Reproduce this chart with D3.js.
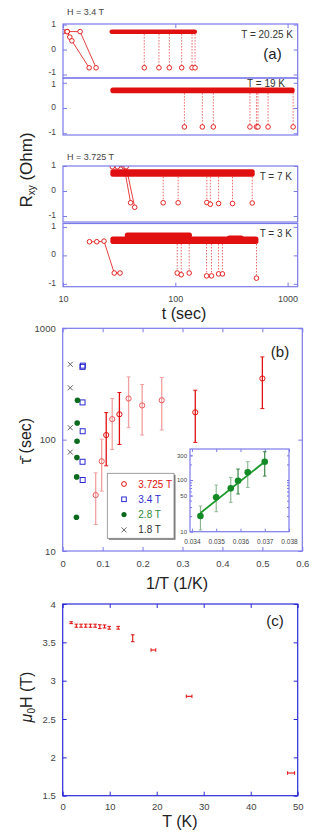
<!DOCTYPE html>
<html>
<head>
<meta charset="utf-8">
<script src="https://cdn.jsdelivr.net/npm/d3@7/dist/d3.min.js"></script>
<style>
body { margin: 0; background: #fff; }
svg text { font-family: "Liberation Sans", Arial, sans-serif; }
</style>
</head>
<body>
<div id="chartholder"></div>
<script>
// ---------- data ----------

// (a) telegraph traces: band = [t start, t end, R low, R high] of the crowded high state
var a1Band = [[27, 150, 0.62, 0.8]];
var a1Switch = [52.9, 71.5, 88.5, 114, 141, 150];
var a1Low = [-0.73, -0.73, -0.73, -0.73, -0.73, -0.73];
var a1Early = [
  [[10, 0.72], [10.9, 0.72], [11.5, 0.5], [12, 0.35], [17.1, -0.73]],
  [[10.9, 0.72], [14.2, 0.72], [19.7, -0.73]]
];

var a2Band = [[27.5, 1110, 0.59, 0.81]];
var a2Switch = [120.5, 174, 218, 462, 528, 545, 670, 1120];
var a2Low = [-0.75, -0.75, -0.75, -0.75, -0.75, -0.75, -0.75, -0.75];
var a2Early = [];

var a3Band = [[27.5, 489, 0.57, 0.87]];
var a3Switch = [78, 106, 191, 205, 243, 323, 484];
var a3Low = [-0.47, -0.47, -0.46, -0.53, -0.5, -0.5, -0.48];
var a3Early = [
  [[27.5, 0.97], [35, 0.97], [40, -0.47]],
  [[30.5, 0.97], [36.5, 0.97], [43.5, -0.65]]
];

var a4Band = [[27.5, 528, 0.4, 0.66], [37, 135, 0.6, 0.8], [300, 390, 0.55, 0.7]];
var a4Switch = [104, 113, 133, 190, 210, 243, 263, 528];
var a4Low = [-0.62, -0.68, -0.62, -0.72, -0.72, -0.65, -0.65, -0.8];
var a4Early = [
  [[17.2, 0.48], [20, 0.48], [23.2, 0.5], [28.6, -0.62], [32.2, -0.62]]
];

var aTempLabels = ["T = 20.25 K", "T = 19 K", "T = 7 K", "T = 3 K"];
var aFieldLabels = ["H = 3.4 T", "H = 3.725 T"];
var aXTicks = [10, 100, 1000];
var aYTicks = [-1, 0, 1];

// (b) mean switching time vs 1/T
var bRedX = [0.0826, 0.0976, 0.109, 0.124, 0.142, 0.165, 0.199, 0.248, 0.332, 0.5];
var bRedY = [31.8, 64, 110, 153, 169, 234, 203, 226, 176, 354];
var bRedLo = [17.3, 34.5, 58.2, 81.7, 90.6, 128, 110, 122, 94.5, 190];
var bRedHi = [50.3, 101, 175, 234, 265, 366, 313, 362, 278, 553];
var bRedTone = [0, 0, 1, 0, 1, 0, 0, 0, 1, 1];

var bBlueX = [0.0495, 0.0505, 0.0497, 0.05, 0.0497, 0.05];
var bBlueY = [450, 462, 216, 119, 63.3, 43.4];

var greenX = [0.0370, 0.0363, 0.0359, 0.0356, 0.0350, 0.03435];
var greenY = [226, 141, 96.8, 69, 46.3, 20.1];
var greenLo = [119, 72, 53.6, 37, 24.4, 10.8];
var greenHi = [352, 226, 163, 112, 80, 31.4];
var greenTone = [1, 0, 1, 0, 0, 0];
var greenFitX = [0.03435, 0.0370];
var greenFitY = [23, 226];

var bGrayX = [0.019, 0.019, 0.0188, 0.019];
var bGrayY = [475, 292, 128, 77.3];

var bLegend = ["3.725 T", "3.4 T", "2.8 T", "1.8 T"];
var bXTicks = [0, 0.1, 0.2, 0.3, 0.4, 0.5, 0.6];
var bYTicks = [10, 100, 1000];
var insetXTicks = [0.034, 0.035, 0.036, 0.037, 0.038];
var insetYTicks = [10, 50, 100, 300];

// (c) switching field vs T
var cT = [1.8, 2.9, 3.9, 4.9, 5.9, 6.9, 7.9, 8.9, 9.9, 11.8, 14.9, 19.3, 26.9, 48.6];
var cH = [3.756, 3.717, 3.717, 3.717, 3.717, 3.717, 3.704, 3.707, 3.69, 3.69, 3.553, 3.40, 2.796, 1.796];
var cHerr = [0.012, 0.02, 0.02, 0.02, 0.02, 0.02, 0.025, 0.02, 0.018, 0.018, 0.045, 0, 0, 0];
var cTerr = [0, 0, 0, 0, 0, 0, 0, 0, 0, 0, 0, 0.5, 0.6, 0.75];
var cXTicks = [0, 10, 20, 30, 40, 50];
var cYTicks = [1.5, 2, 2.5, 3, 3.5, 4];

// ---------- drawing ----------
var frameCol = "#7b7be8", labCol = "#444", red = "#e01010", pink = "#f3a0a0";
var blue = "#2b2bd0", green = "#0b6a1e", gray = "#555";

var svg = d3.select("#chartholder")
  .append("svg")
  .attr("width", 326)
  .attr("height", 834);

function styleAxis(sel, col, fs) {
  sel.select(".domain").remove();
  sel.selectAll(".tick line").attr("stroke", col);
  sel.selectAll(".tick text").attr("fill", labCol).style("font-size", fs || "9px");
}
function frame(x0, y0, x1, y1, col) {
  svg.append("rect")
    .attr("x", x0).attr("y", y0)
    .attr("width", x1 - x0).attr("height", y1 - y0)
    .attr("fill", "none").attr("stroke", col).attr("stroke-width", 1.2);
}
function plain(d) { return String(d); }

// ---- panel (a) ----
var xa = d3.scaleLog().domain([10, 1230]).range([63, 297.7]);
var aRows = [
  {top: 24, bottom: 78, dom: [-1.14, 1.024], band: a1Band, sw: a1Switch, low: a1Low, early: a1Early},
  {top: 78, bottom: 135, dom: [-1.07, 1.19], band: a2Band, sw: a2Switch, low: a2Low, early: a2Early},
  {top: 166, bottom: 222, dom: [-1.24, 1.0], band: a3Band, sw: a3Switch, low: a3Low, early: a3Early},
  {top: 223.5, bottom: 286.7, dom: [-1.1, 1.12], band: a4Band, sw: a4Switch, low: a4Low, early: a4Early}
];
var aLabelY = [37.5, 87, 179.5, 237];
var aLabelX = [293, 285, 292, 292];

aRows.forEach(function(r, i) {
  var y = d3.scaleLinear().domain(r.dom).range([r.bottom, r.top]);
  var g = svg.append("g");
  var clip = "clipA" + i;
  svg.append("clipPath").attr("id", clip).append("rect")
    .attr("x", 63).attr("y", r.top).attr("width", 234.7).attr("height", r.bottom - r.top);
  var dg = g.append("g").attr("clip-path", "url(#" + clip + ")");

  // drops
  var hiTop = r.band[0][2];
  r.sw.forEach(function(t, k) {
    dg.append("line")
      .attr("x1", xa(t)).attr("x2", xa(t))
      .attr("y1", y(hiTop)).attr("y2", y(r.low[k]))
      .attr("stroke", red).attr("stroke-opacity", 0.7)
      .attr("stroke-width", 0.9).attr("stroke-dasharray", "1.5,1.5");
    dg.append("circle")
      .attr("cx", xa(t)).attr("cy", y(r.low[k])).attr("r", 2.3)
      .attr("fill", "#fff").attr("stroke", red).attr("stroke-width", 0.9);
  });

  // crowded high state
  dg.selectAll(".band").data(r.band).enter().append("rect")
    .attr("x", function(d) { return xa(d[0]) - 2; })
    .attr("y", function(d) { return y(d[3]); })
    .attr("width", function(d) { return xa(d[1]) - xa(d[0]) + 4; })
    .attr("height", function(d) { return y(d[2]) - y(d[3]); })
    .attr("rx", 2.5)
    .attr("fill", red);

  // early traces
  var line = d3.line().x(function(d) { return xa(d[0]); }).y(function(d) { return y(d[1]); });
  r.early.forEach(function(tr) {
    dg.append("path").attr("d", line(tr))
      .attr("fill", "none").attr("stroke", red).attr("stroke-width", 0.8);
    dg.selectAll(null).data(tr).enter().append("circle")
      .attr("cx", function(d) { return xa(d[0]); })
      .attr("cy", function(d) { return y(d[1]); })
      .attr("r", 2.3).attr("fill", "#fff").attr("stroke", red).attr("stroke-width", 0.9);
  });

  // axes
  var ax = g.append("g").attr("transform", "translate(63,0)")
    .call(d3.axisLeft(y).tickValues(aYTicks).tickSizeInner(-4).tickSizeOuter(0).tickPadding(7).tickFormat(plain))
    .call(styleAxis, frameCol, "8.5px");
  // labels sit a little above their ticks, as in the original
  ax.selectAll(".tick text").attr("y", function(d) {
    if (i == 0 && d == -1) return -2.5;
    if (i == 1 && d == 1) return 0.5;
    return -1.2;
  });
  g.append("g").attr("transform", "translate(297.7,0)")
    .call(d3.axisRight(y).tickValues(aYTicks).tickSizeInner(-4).tickSizeOuter(0).tickFormat(""))
    .call(styleAxis, frameCol);
  if (i == 0) {
    g.append("g").attr("transform", "translate(0," + r.top + ")")
      .call(d3.axisTop(xa).tickValues(aXTicks).tickSizeInner(-4).tickSizeOuter(0).tickFormat(""))
      .call(styleAxis, frameCol);
  }
  if (i == 3) {
    g.append("g").attr("transform", "translate(0," + r.bottom + ")")
      .call(d3.axisBottom(xa).tickValues(aXTicks).tickSizeInner(-4).tickSizeOuter(0).tickPadding(9).tickFormat(plain))
      .call(styleAxis, frameCol);
  }
  frame(63, r.top, 297.7, r.bottom, frameCol);

  svg.append("text").attr("x", aLabelX[i]).attr("y", aLabelY[i])
    .attr("text-anchor", "end").style("font-size", "10px").attr("fill", "#333")
    .text(aTempLabels[i]);
});

svg.append("text").attr("x", 67).attr("y", 14.5).style("font-size", "9px").attr("fill", labCol).text(aFieldLabels[0]);
svg.append("text").attr("x", 67).attr("y", 160).style("font-size", "9px").attr("fill", labCol).text(aFieldLabels[1]);
svg.append("text").attr("x", 272.5).attr("y", 58.5).attr("text-anchor", "middle").style("font-size", "15px").attr("fill", "#222").text("(a)");
svg.append("text").attr("x", 184).attr("y", 319).attr("text-anchor", "middle").style("font-size", "16px").attr("fill", "#222").text("t (sec)");

var ra = svg.append("text").attr("transform", "translate(32,170) rotate(-90)")
  .attr("text-anchor", "middle").style("font-size", "17px").attr("fill", "#222");
ra.append("tspan").text("R");
ra.append("tspan").attr("baseline-shift", "-30%").style("font-size", "10px").text("xy");
ra.append("tspan").text(" (Ohm)");

// ---- panel (b) ----
var xb = d3.scaleLinear().domain([0, 0.6]).range([62.7, 302.3]);
var yb = d3.scaleLog().domain([10, 1000]).range([551, 328.3]);
var gb = svg.append("g");

gb.append("g").attr("transform", "translate(0,551)")
  .call(d3.axisBottom(xb).tickValues(bXTicks).tickSizeInner(-4).tickSizeOuter(0).tickPadding(9).tickFormat(plain))
  .call(styleAxis, frameCol, "9.5px");
gb.append("g").attr("transform", "translate(0,328.3)")
  .call(d3.axisTop(xb).tickValues(bXTicks).tickSizeInner(-4).tickSizeOuter(0).tickFormat(""))
  .call(styleAxis, frameCol);
gb.append("g").attr("transform", "translate(62.7,0)")
  .call(d3.axisLeft(yb).tickValues(bYTicks).tickSizeInner(-4).tickSizeOuter(0).tickPadding(7).tickFormat(plain))
  .call(styleAxis, frameCol, "9.5px");
gb.append("g").attr("transform", "translate(302.3,0)")
  .call(d3.axisRight(yb).tickValues(bYTicks).tickSizeInner(-4).tickSizeOuter(0).tickFormat(""))
  .call(styleAxis, frameCol);
frame(62.7, 328.3, 302.3, 551, frameCol);

// red error bars
bRedX.forEach(function(x, i) {
  var col = bRedTone[i] ? red : pink;
  var px = xb(x);
  gb.append("line").attr("x1", px).attr("x2", px).attr("y1", yb(bRedLo[i])).attr("y2", yb(bRedHi[i]))
    .attr("stroke", col).attr("stroke-width", 1.3);
  [bRedLo[i], bRedHi[i]].forEach(function(v) {
    gb.append("line").attr("x1", px - 2).attr("x2", px + 2).attr("y1", yb(v)).attr("y2", yb(v))
      .attr("stroke", col).attr("stroke-width", 1);
  });
  gb.append("circle").attr("cx", px).attr("cy", yb(bRedY[i])).attr("r", 2.6)
    .attr("fill", "none").attr("stroke", col == pink ? "#ea5a5a" : red).attr("stroke-width", 1);
});

gb.selectAll(".bsq").data(bBlueY).enter().append("rect")
  .attr("x", function(d, i) { return xb(bBlueX[i]) - 2.5; })
  .attr("y", function(d) { return yb(d) - 2.5; })
  .attr("width", 5).attr("height", 5)
  .attr("fill", "none").attr("stroke", blue).attr("stroke-width", 1);

gb.selectAll(".bgr").data(greenY).enter().append("circle")
  .attr("cx", function(d, i) { return xb(greenX[i]); })
  .attr("cy", function(d) { return yb(d); })
  .attr("r", 2.8).attr("fill", green);

gb.selectAll(".bx").data(bGrayY).enter().append("path")
  .attr("transform", function(d, i) { return "translate(" + xb(bGrayX[i]) + "," + yb(d) + ")"; })
  .attr("d", d3.symbol().type(d3.symbolX).size(18))
  .attr("fill", "none").attr("stroke", gray).attr("stroke-width", 0.9);

// legend
var lg = svg.append("g").attr("transform", "translate(107.3,473.3)");
lg.append("rect").attr("x", 1.5).attr("y", 1.5).attr("width", 66.7).attr("height", 65).attr("fill", "#777");
lg.append("rect").attr("width", 66.7).attr("height", 65).attr("fill", "#fff").attr("stroke", "#888").attr("stroke-width", 0.8);
var legCols = [red, blue, "#2f8a3a", "#333"];
bLegend.forEach(function(s, i) {
  var yy = 10.7 + i * 15.3;
  var sx = 16.7;
  if (i == 0) lg.append("circle").attr("cx", sx).attr("cy", yy).attr("r", 2.4).attr("fill", "none").attr("stroke", red).attr("stroke-width", 1);
  if (i == 1) lg.append("rect").attr("x", sx - 2.3).attr("y", yy - 2.3).attr("width", 4.6).attr("height", 4.6).attr("fill", "none").attr("stroke", blue).attr("stroke-width", 1);
  if (i == 2) lg.append("circle").attr("cx", sx).attr("cy", yy).attr("r", 2.6).attr("fill", green);
  if (i == 3) lg.append("path").attr("transform", "translate(" + sx + "," + yy + ")").attr("d", d3.symbol().type(d3.symbolX).size(18)).attr("fill", "none").attr("stroke", gray).attr("stroke-width", 0.9);
  lg.append("text").attr("x", 31).attr("y", yy + 3.6).style("font-size", "10px").attr("fill", legCols[i]).text(s);
});

// inset
var xi = d3.scaleLinear().domain([0.03392, 0.0380]).range([190, 289]);
var yi = d3.scaleLog().domain([10, 398]).range([531.7, 449]);
var gi = svg.append("g");
gi.append("rect").attr("x", 190).attr("y", 449).attr("width", 99).attr("height", 82.7).attr("fill", "#fff");
var minorI = [20, 30, 40, 50, 60, 70, 80, 90, 100, 200, 300];
gi.append("g").attr("transform", "translate(0,531.7)")
  .call(d3.axisBottom(xi).tickValues(insetXTicks).tickSizeInner(-3).tickSizeOuter(0).tickPadding(8).tickFormat(d3.format(".3f")))
  .call(styleAxis, frameCol, "6.5px");
gi.append("g").attr("transform", "translate(0,449)")
  .call(d3.axisTop(xi).tickValues(insetXTicks).tickSizeInner(-3).tickSizeOuter(0).tickFormat(""))
  .call(styleAxis, frameCol);
gi.append("g").attr("transform", "translate(190,0)")
  .call(d3.axisLeft(yi).tickValues(insetYTicks).tickSizeInner(-3).tickSizeOuter(0).tickPadding(3).tickFormat(plain))
  .call(styleAxis, frameCol, "6px");
gi.append("g").attr("transform", "translate(190,0)")
  .call(d3.axisLeft(yi).tickValues(minorI).tickSizeInner(-2).tickSizeOuter(0).tickFormat(""))
  .call(styleAxis, frameCol);
gi.append("g").attr("transform", "translate(289,0)")
  .call(d3.axisRight(yi).tickValues(minorI).tickSizeInner(-2).tickSizeOuter(0).tickFormat(""))
  .call(styleAxis, frameCol);
frame(190, 449, 289, 531.7, frameCol);

greenX.forEach(function(x, i) {
  var col = greenTone[i] ? "#2a7a35" : "#86b48c";
  gi.append("line").attr("x1", xi(x)).attr("x2", xi(x)).attr("y1", yi(greenLo[i])).attr("y2", yi(greenHi[i]))
    .attr("stroke", col).attr("stroke-width", 1.1);
  [greenLo[i], greenHi[i]].forEach(function(v) {
    gi.append("line").attr("x1", xi(x) - 1.8).attr("x2", xi(x) + 1.8).attr("y1", yi(v)).attr("y2", yi(v))
      .attr("stroke", col).attr("stroke-width", 0.9);
  });
});
gi.append("line")
  .attr("x1", xi(greenFitX[0])).attr("y1", yi(greenFitY[0]))
  .attr("x2", xi(greenFitX[1])).attr("y2", yi(greenFitY[1]))
  .attr("stroke", "#1d9a2c").attr("stroke-width", 1.8);
gi.selectAll(".ig").data(greenY).enter().append("circle")
  .attr("cx", function(d, i) { return xi(greenX[i]); })
  .attr("cy", function(d) { return yi(d); })
  .attr("r", 3.3).attr("fill", "#138a25");

svg.append("text").attr("x", 280).attr("y", 357).attr("text-anchor", "middle").style("font-size", "15px").attr("fill", "#222").text("(b)");
svg.append("text").attr("x", 177).attr("y", 589).attr("text-anchor", "middle").style("font-size", "16px").attr("fill", "#222").text("1/T (1/K)");
svg.append("text").attr("transform", "translate(31,441) rotate(-90)")
  .attr("text-anchor", "middle").style("font-size", "16px").attr("fill", "#222").text("τ\u0304 (sec)");

// ---- panel (c) ----
var cCol = "#2a2ad6";
var xc = d3.scaleLinear().domain([0, 50]).range([62.7, 297.7]);
var yc = d3.scaleLinear().domain([1.5, 4]).range([795.7, 604]);
var gc = svg.append("g");
gc.append("g").attr("transform", "translate(0,795.7)")
  .call(d3.axisBottom(xc).tickValues(cXTicks).tickSizeInner(-4).tickSizeOuter(0).tickPadding(8).tickFormat(plain))
  .call(styleAxis, cCol, "9.5px");
gc.append("g").attr("transform", "translate(0,604)")
  .call(d3.axisTop(xc).tickValues(cXTicks).tickSizeInner(-4).tickSizeOuter(0).tickFormat(""))
  .call(styleAxis, cCol);
gc.append("g").attr("transform", "translate(62.7,0)")
  .call(d3.axisLeft(yc).tickValues(cYTicks).tickSizeInner(-4).tickSizeOuter(0).tickPadding(7).tickFormat(plain))
  .call(styleAxis, cCol, "9.5px");
gc.append("g").attr("transform", "translate(297.7,0)")
  .call(d3.axisRight(yc).tickValues(cYTicks).tickSizeInner(-4).tickSizeOuter(0).tickFormat(""))
  .call(styleAxis, cCol);
frame(62.7, 604, 297.7, 795.7, cCol);

cT.forEach(function(t, i) {
  var px = xc(t), py = yc(cH[i]);
  if (cHerr[i] > 0) {
    var y0 = yc(cH[i] - cHerr[i]), y1 = yc(cH[i] + cHerr[i]);
    gc.append("line").attr("x1", px).attr("x2", px).attr("y1", y0).attr("y2", y1).attr("stroke", red).attr("stroke-width", 1.1);
    gc.append("line").attr("x1", px - 1.8).attr("x2", px + 1.8).attr("y1", y0).attr("y2", y0).attr("stroke", red).attr("stroke-width", 1);
    gc.append("line").attr("x1", px - 1.8).attr("x2", px + 1.8).attr("y1", y1).attr("y2", y1).attr("stroke", red).attr("stroke-width", 1);
  }
  if (cTerr[i] > 0) {
    var x0 = xc(t - cTerr[i]), x1 = xc(t + cTerr[i]);
    gc.append("line").attr("x1", x0).attr("x2", x1).attr("y1", py).attr("y2", py).attr("stroke", red).attr("stroke-width", 1.1);
    gc.append("line").attr("x1", x0).attr("x2", x0).attr("y1", py - 1.8).attr("y2", py + 1.8).attr("stroke", red).attr("stroke-width", 1);
    gc.append("line").attr("x1", x1).attr("x2", x1).attr("y1", py - 1.8).attr("y2", py + 1.8).attr("stroke", red).attr("stroke-width", 1);
  }
});

svg.append("text").attr("x", 275).attr("y", 626).attr("text-anchor", "middle").style("font-size", "15px").attr("fill", "#222").text("(c)");
svg.append("text").attr("x", 180).attr("y", 827).attr("text-anchor", "middle").style("font-size", "16px").attr("fill", "#222").text("T (K)");
var rc = svg.append("text").attr("transform", "translate(32,697) rotate(-90)")
  .attr("text-anchor", "middle").style("font-size", "16px").attr("fill", "#222");
rc.append("tspan").style("font-style", "italic").text("μ");
rc.append("tspan").attr("baseline-shift", "-30%").style("font-size", "10px").text("0");
rc.append("tspan").text("H (T)");
</script>
</body>
</html>
